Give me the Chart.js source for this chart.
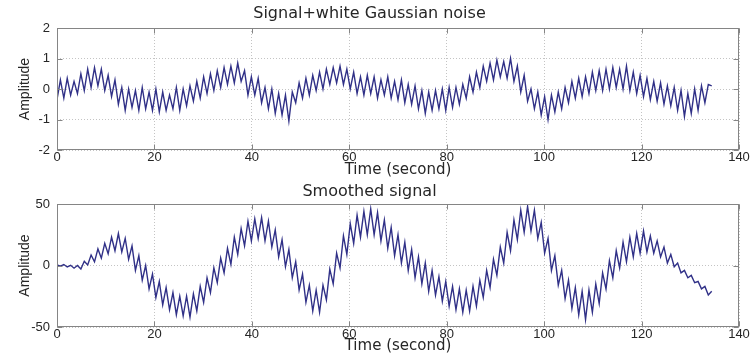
<!DOCTYPE html>
<html>
<head>
<meta charset="utf-8">
<script src="https://cdn.jsdelivr.net/npm/chart.js@4.4.1/dist/chart.umd.min.js"></script>
<style>
  body { margin: 0; background: #fff; }
  .plot { position: absolute; left: 0; width: 753px; }
</style>
</head>
<body>
<div class="plot" style="top:0;height:180px"><canvas id="noisyChart"></canvas></div>
<div class="plot" style="top:180px;height:178px"><canvas id="smoothChart"></canvas></div>
<script>
// one sample every 0.7 s, 193 samples (0 .. 134.4 s)
const sampleStep = 0.7;

// Signal + white Gaussian noise
const noisy = [
  -0.35, 0.3, -0.3, 0.35, -0.2, 0.25, -0.15, 0.5, -0.05, 0.65,
  0.05, 0.7, 0.1, 0.65, -0.05, 0.45, -0.25, 0.3, -0.5, 0.05,
  -0.7, 0.0, -0.6, -0.05, -0.7, 0.05, -0.65, -0.1, -0.7, 0.0,
  -0.75, -0.1, -0.7, -0.2, -0.65, 0.05, -0.7, 0.0, -0.55, 0.1,
  -0.4, 0.25, -0.3, 0.4, -0.15, 0.5, -0.05, 0.6, 0.05, 0.7,
  0.15, 0.75, 0.2, 0.85, 0.25, 0.6, -0.2, 0.4, -0.2, 0.35,
  -0.45, 0.05, -0.65, 0.0, -0.8, -0.15, -0.85, -0.2, -1.05, -0.1,
  -0.45, 0.2, -0.3, 0.35, -0.2, 0.45, -0.05, 0.55, 0.0, 0.65,
  0.15, 0.7, 0.2, 0.75, 0.15, 0.65, 0.0, 0.55, -0.15, 0.4,
  -0.2, 0.45, -0.15, 0.4, -0.3, 0.3, -0.2, 0.4, -0.3, 0.25,
  -0.35, 0.3, -0.45, 0.15, -0.5, 0.1, -0.65, -0.05, -0.8, -0.1,
  -0.7, -0.05, -0.65, 0.0, -0.7, 0.05, -0.6, 0.05, -0.5, 0.15,
  -0.3, 0.4, -0.1, 0.55, 0.05, 0.75, 0.25, 0.85, 0.3, 0.95,
  0.4, 0.9, 0.35, 1.0, 0.25, 0.75, -0.1, 0.45, -0.4, 0.0,
  -0.65, -0.1, -0.85, -0.25, -1.0, -0.2, -0.75, -0.1, -0.65, 0.05,
  -0.45, 0.25, -0.3, 0.35, -0.25, 0.4, -0.15, 0.55, -0.05, 0.6,
  -0.05, 0.65, 0.0, 0.7, 0.05, 0.65, 0.0, 0.75, -0.05, 0.55,
  -0.15, 0.45, -0.25, 0.35, -0.35, 0.25, -0.4, 0.2, -0.5, 0.1,
  -0.55, 0.05, -0.7, -0.05, -0.9, -0.15, -0.8, 0.0, -0.7, 0.1,
  -0.45, 0.15, 0.1
];

// Smoothed signal
const smoothed = [
  0.5, -0.5, 0.8, -1.2, 0.2, -2.2, 0.0, -2.8, 3.5, 0.5,
  8.5, 3, 13.5, 6, 18, 9.5, 23, 12, 26, 11,
  22, 5, 16, -4, 8, -12, 0, -19, -7, -26,
  -13, -32, -18, -36, -22, -40, -25, -41, -25, -42,
  -23, -37, -17, -30, -10, -22, -2, -14, 6, -6,
  14, 1, 23, 9, 30, 16, 36, 20, 38, 22,
  39, 20, 36, 15, 29, 7, 21, -1, 13, -10,
  3, -20, -7, -30, -16, -37, -20, -38, -16, -28,
  -3, -15, 10, -2, 24, 9, 34, 18, 41, 23,
  44, 25, 46, 25, 43, 20, 37, 14, 31, 8,
  25, 2, 19, -4, 13, -10, 7, -15, 2, -21,
  -4, -24, -9, -29, -13, -33, -17, -36, -19, -38,
  -20, -37, -17, -33, -12, -26, -4, -18, 5, -8,
  15, 2, 27, 12, 37, 21, 45, 27, 48, 28,
  45, 22, 35, 10, 22, -4, 8, -16, -4, -27,
  -12, -35, -18, -40, -21, -44, -20, -38, -15, -31,
  -6, -19, 4, -10, 12, -2, 19, 3, 23, 7,
  26, 10, 28, 11, 24, 10, 20, 7, 15, 2,
  9, -1, 2, -6, -4, -10, -8, -14, -13, -19,
  -17, -24, -21
];

const timeTicks = [0, 20, 40, 60, 80, 100, 120, 140];
const noisyTicks = [-2, -1, 0, 1, 2];
const smoothTicks = [-50, 0, 50];

const time = noisy.map((_, i) => +(i * sampleStep).toFixed(1));

Chart.defaults.font.family = '"Liberation Sans", Arial, sans-serif';
Chart.defaults.font.size = 13;
Chart.defaults.color = '#262626';

const boxColor = '#858585';

// MATLAB style box with inward tick marks
const axesBox = {
  id: 'axesBox',
  afterDraw(chart) {
    const { ctx, chartArea: a, scales: { x, y } } = chart;
    const l = Math.round(a.left) + 0.5, r = Math.round(a.right) - 0.5;
    const t = Math.round(a.top) + 0.5, b = Math.round(a.bottom) - 0.5;
    ctx.save();
    ctx.strokeStyle = boxColor;
    ctx.lineWidth = 1;
    ctx.strokeRect(l, t, r - l, b - t);
    ctx.beginPath();
    x.ticks.forEach(tk => {
      const px = Math.round(x.getPixelForValue(tk.value)) + 0.5;
      ctx.moveTo(px, b); ctx.lineTo(px, b - 5);
      ctx.moveTo(px, t); ctx.lineTo(px, t + 5);
    });
    y.ticks.forEach(tk => {
      const py = Math.round(y.getPixelForValue(tk.value)) + 0.5;
      ctx.moveTo(l, py); ctx.lineTo(l + 5, py);
      ctx.moveTo(r, py); ctx.lineTo(r - 5, py);
    });
    ctx.stroke();
    ctx.restore();
  }
};

function makePlot(id, values, yTicks, title, opts) {
  return new Chart(document.getElementById(id), {
    type: 'line',
    data: {
      datasets: [{
        data: values.map((v, i) => ({ x: time[i], y: v })),
        borderColor: 'rgb(48, 48, 135)',
        borderWidth: 1.4,
        pointRadius: 0,
        tension: 0
      }]
    },
    options: {
      responsive: true,
      maintainAspectRatio: false,
      animation: false,
      layout: { padding: { left: 0, right: 14, top: 0, bottom: 0 } },
      plugins: {
        legend: { display: false },
        tooltip: { enabled: false },
        title: {
          display: true,
          text: title,
          color: '#262626',
          font: { family: '"DejaVu Sans", sans-serif', size: 16, weight: 'normal' },
          padding: opts.titlePad
        }
      },
      scales: {
        x: {
          type: 'linear',
          min: timeTicks[0],
          max: timeTicks[timeTicks.length - 1],
          afterBuildTicks: axis => { axis.ticks = timeTicks.map(v => ({ value: v })); },
          afterFit: axis => { axis.height = opts.xHeight; },
          grid: { color: '#c4c4c4', drawTicks: false },
          border: { display: false, dash: [1, 2] },
          ticks: { padding: 0, maxRotation: 0 },
          title: {
            display: true,
            text: 'Time (second)',
            font: { family: '"DejaVu Sans", sans-serif', size: 15 },
            padding: { top: 0, bottom: opts.xTitlePad }
          }
        },
        y: {
          min: yTicks[0],
          max: yTicks[yTicks.length - 1],
          afterBuildTicks: axis => { axis.ticks = yTicks.map(v => ({ value: v })); },
          afterFit: axis => { axis.width = 57; },
          grid: { color: '#c4c4c4', drawTicks: false },
          border: { display: false, dash: [1, 2] },
          ticks: { padding: 7 },
          title: {
            display: true,
            text: 'Amplitude',
            font: { size: 14 },
            padding: { top: 17, bottom: 0 }
          }
        }
      }
    },
    plugins: [axesBox]
  });
}

makePlot('noisyChart', noisy, noisyTicks, 'Signal+white Gaussian noise',
  { titlePad: { top: 4, bottom: 4.8 }, xHeight: 30, xTitlePad: 0.5 });
makePlot('smoothChart', smoothed, smoothTicks, 'Smoothed signal',
  { titlePad: { top: 2.7, bottom: 2.1 }, xHeight: 31, xTitlePad: 2.5 });
</script>
</body>
</html>
